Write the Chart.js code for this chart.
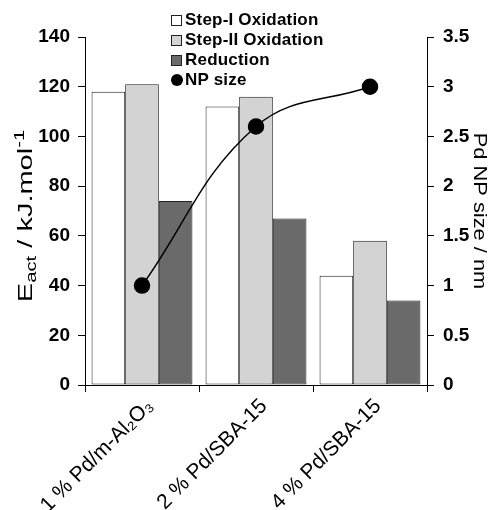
<!DOCTYPE html>
<html>
<head>
<meta charset="utf-8">
<script src="https://cdn.jsdelivr.net/npm/chart.js@4.4.1/dist/chart.umd.min.js"></script>
<style>
  html, body { margin: 0; padding: 0; background: #fff; }
  #wrap { position: relative; width: 496px; height: 510px; }
  #legend {
    position: absolute; left: 171px; top: 10px;
    font: bold 17px "Liberation Sans", Arial, sans-serif;
    letter-spacing: 0.2px; color: #000;
  }
  #legend div { height: 20px; display: flex; align-items: center; }
  #legend .box { width: 9px; height: 9px; border: 1px solid #222; margin-right: 3px; }
  #legend .dot { width: 12px; height: 12px; border-radius: 50%; background: #000; margin-right: 2px; }
</style>
</head>
<body>
<div id="wrap">
  <canvas id="chart" width="496" height="510"></canvas>
  <div id="legend"></div>
</div>
<script>
const categories = ['1 % Pd/m-Al\u2082O\u2083', '2 % Pd/SBA-15', '4 % Pd/SBA-15'];
const stepOne = [118, 112, 44];
const stepTwo = [121, 116, 58];
const reduction = [74, 67, 34];
const npSize = [1, 2.6, 3];

const FONT = '"Liberation Sans", Arial, sans-serif';
Chart.defaults.font.family = FONT;
Chart.defaults.color = '#000';

// draws a run of text pieces along a rotated, slightly stretched baseline
function drawRotated(c, parts, cx, cy, angle, stretch) {
    let total = 0;
    parts.forEach(p => {
        c.font = p.size + 'px ' + FONT;
        p.w = c.measureText(p.text).width;
        total += p.w;
    });
    c.save();
    c.translate(cx, cy);
    c.rotate(angle);
    c.scale(stretch, 1);
    c.fillStyle = '#000';
    c.textBaseline = 'alphabetic';
    let x = -total / 2;
    parts.forEach(p => {
        c.font = p.size + 'px ' + FONT;
        c.fillText(p.text, x, 7 + p.dy);
        x += p.w;
    });
    c.restore();
}

// axis titles: the left one has a subscript and a superscript
const axisTitles = {
    id: 'axisTitles',
    afterDraw(chart) {
        const area = chart.chartArea;
        const midY = (area.top + area.bottom) / 2;
        drawRotated(chart.ctx, [
            { text: 'E', size: 20, dy: 0 },
            { text: 'act', size: 14, dy: 4 },
            { text: ' / kJ.mol', size: 20, dy: 0 },
            { text: '-1', size: 14, dy: -8 }
        ], 25, midY + 5, -Math.PI / 2, 1.45);
        drawRotated(chart.ctx, [
            { text: 'Pd NP size / nm', size: 19, dy: 0 }
        ], 481, midY, Math.PI / 2, 1.15);
    }
};

const axisGrid = { drawOnChartArea: false, color: '#000', tickLength: 7 };

const chart = new Chart(document.getElementById('chart').getContext('2d'), {
    data: {
        labels: categories,
        datasets: [{
            type: 'line',
            label: 'NP size',
            data: npSize,
            yAxisID: 'y1',
            borderColor: '#000',
            borderWidth: 1.5,
            backgroundColor: '#000',
            pointBackgroundColor: '#000',
            pointRadius: 7.5,
            tension: 0.4,
            order: 0
        }, {
            type: 'bar',
            label: 'Step-I Oxidation',
            data: stepOne,
            backgroundColor: '#ffffff',
            borderColor: '#222',
            borderWidth: 1,
            borderSkipped: false,
            order: 1
        }, {
            type: 'bar',
            label: 'Step-II Oxidation',
            data: stepTwo,
            backgroundColor: '#d3d3d3',
            borderColor: '#222',
            borderWidth: 1,
            borderSkipped: false,
            order: 1
        }, {
            type: 'bar',
            label: 'Reduction',
            data: reduction,
            backgroundColor: '#6a6a6a',
            borderColor: '#222',
            borderWidth: 1,
            borderSkipped: false,
            order: 1
        }]
    },
    options: {
        responsive: false,
        animation: false,
        layout: { padding: { top: 37, left: 0, right: 0, bottom: 0 } },
        datasets: { bar: { categoryPercentage: 0.885, barPercentage: 1.0 } },
        plugins: { legend: { display: false }, tooltip: { enabled: false } },
        scales: {
            x: {
                grid: { ...axisGrid, offset: true },
                border: { color: '#000' },
                ticks: { font: { size: 21 }, minRotation: 45, maxRotation: 45, padding: 2, labelOffset: 8 },
                afterFit(scale) { scale.height = 125; }
            },
            y: {
                position: 'left',
                min: 0, max: 140,
                ticks: { stepSize: 20, font: { size: 19, weight: 'bold' }, padding: 8 },
                grid: axisGrid,
                border: { color: '#000' },
                afterFit(scale) { scale.width = 85; }
            },
            y1: {
                position: 'right',
                min: 0, max: 3.5,
                ticks: {
                    stepSize: 0.5,
                    font: { size: 19, weight: 'bold' },
                    padding: 9,
                    callback: v => String(Math.round(v * 10) / 10)
                },
                grid: axisGrid,
                border: { color: '#000' },
                afterFit(scale) { scale.width = 69; }
            }
        }
    },
    plugins: [axisTitles]
});

// legend in the plot corner, built from the datasets
const legendEl = document.getElementById('legend');
const legendOrder = [1, 2, 3, 0];
legendOrder.forEach(i => {
    const ds = chart.data.datasets[i];
    const row = document.createElement('div');
    const mark = document.createElement('span');
    if (ds.type === 'line') {
        mark.className = 'dot';
    } else {
        mark.className = 'box';
        mark.style.background = ds.backgroundColor;
    }
    row.appendChild(mark);
    row.appendChild(document.createTextNode(ds.label));
    legendEl.appendChild(row);
});
</script>
</body>
</html>
